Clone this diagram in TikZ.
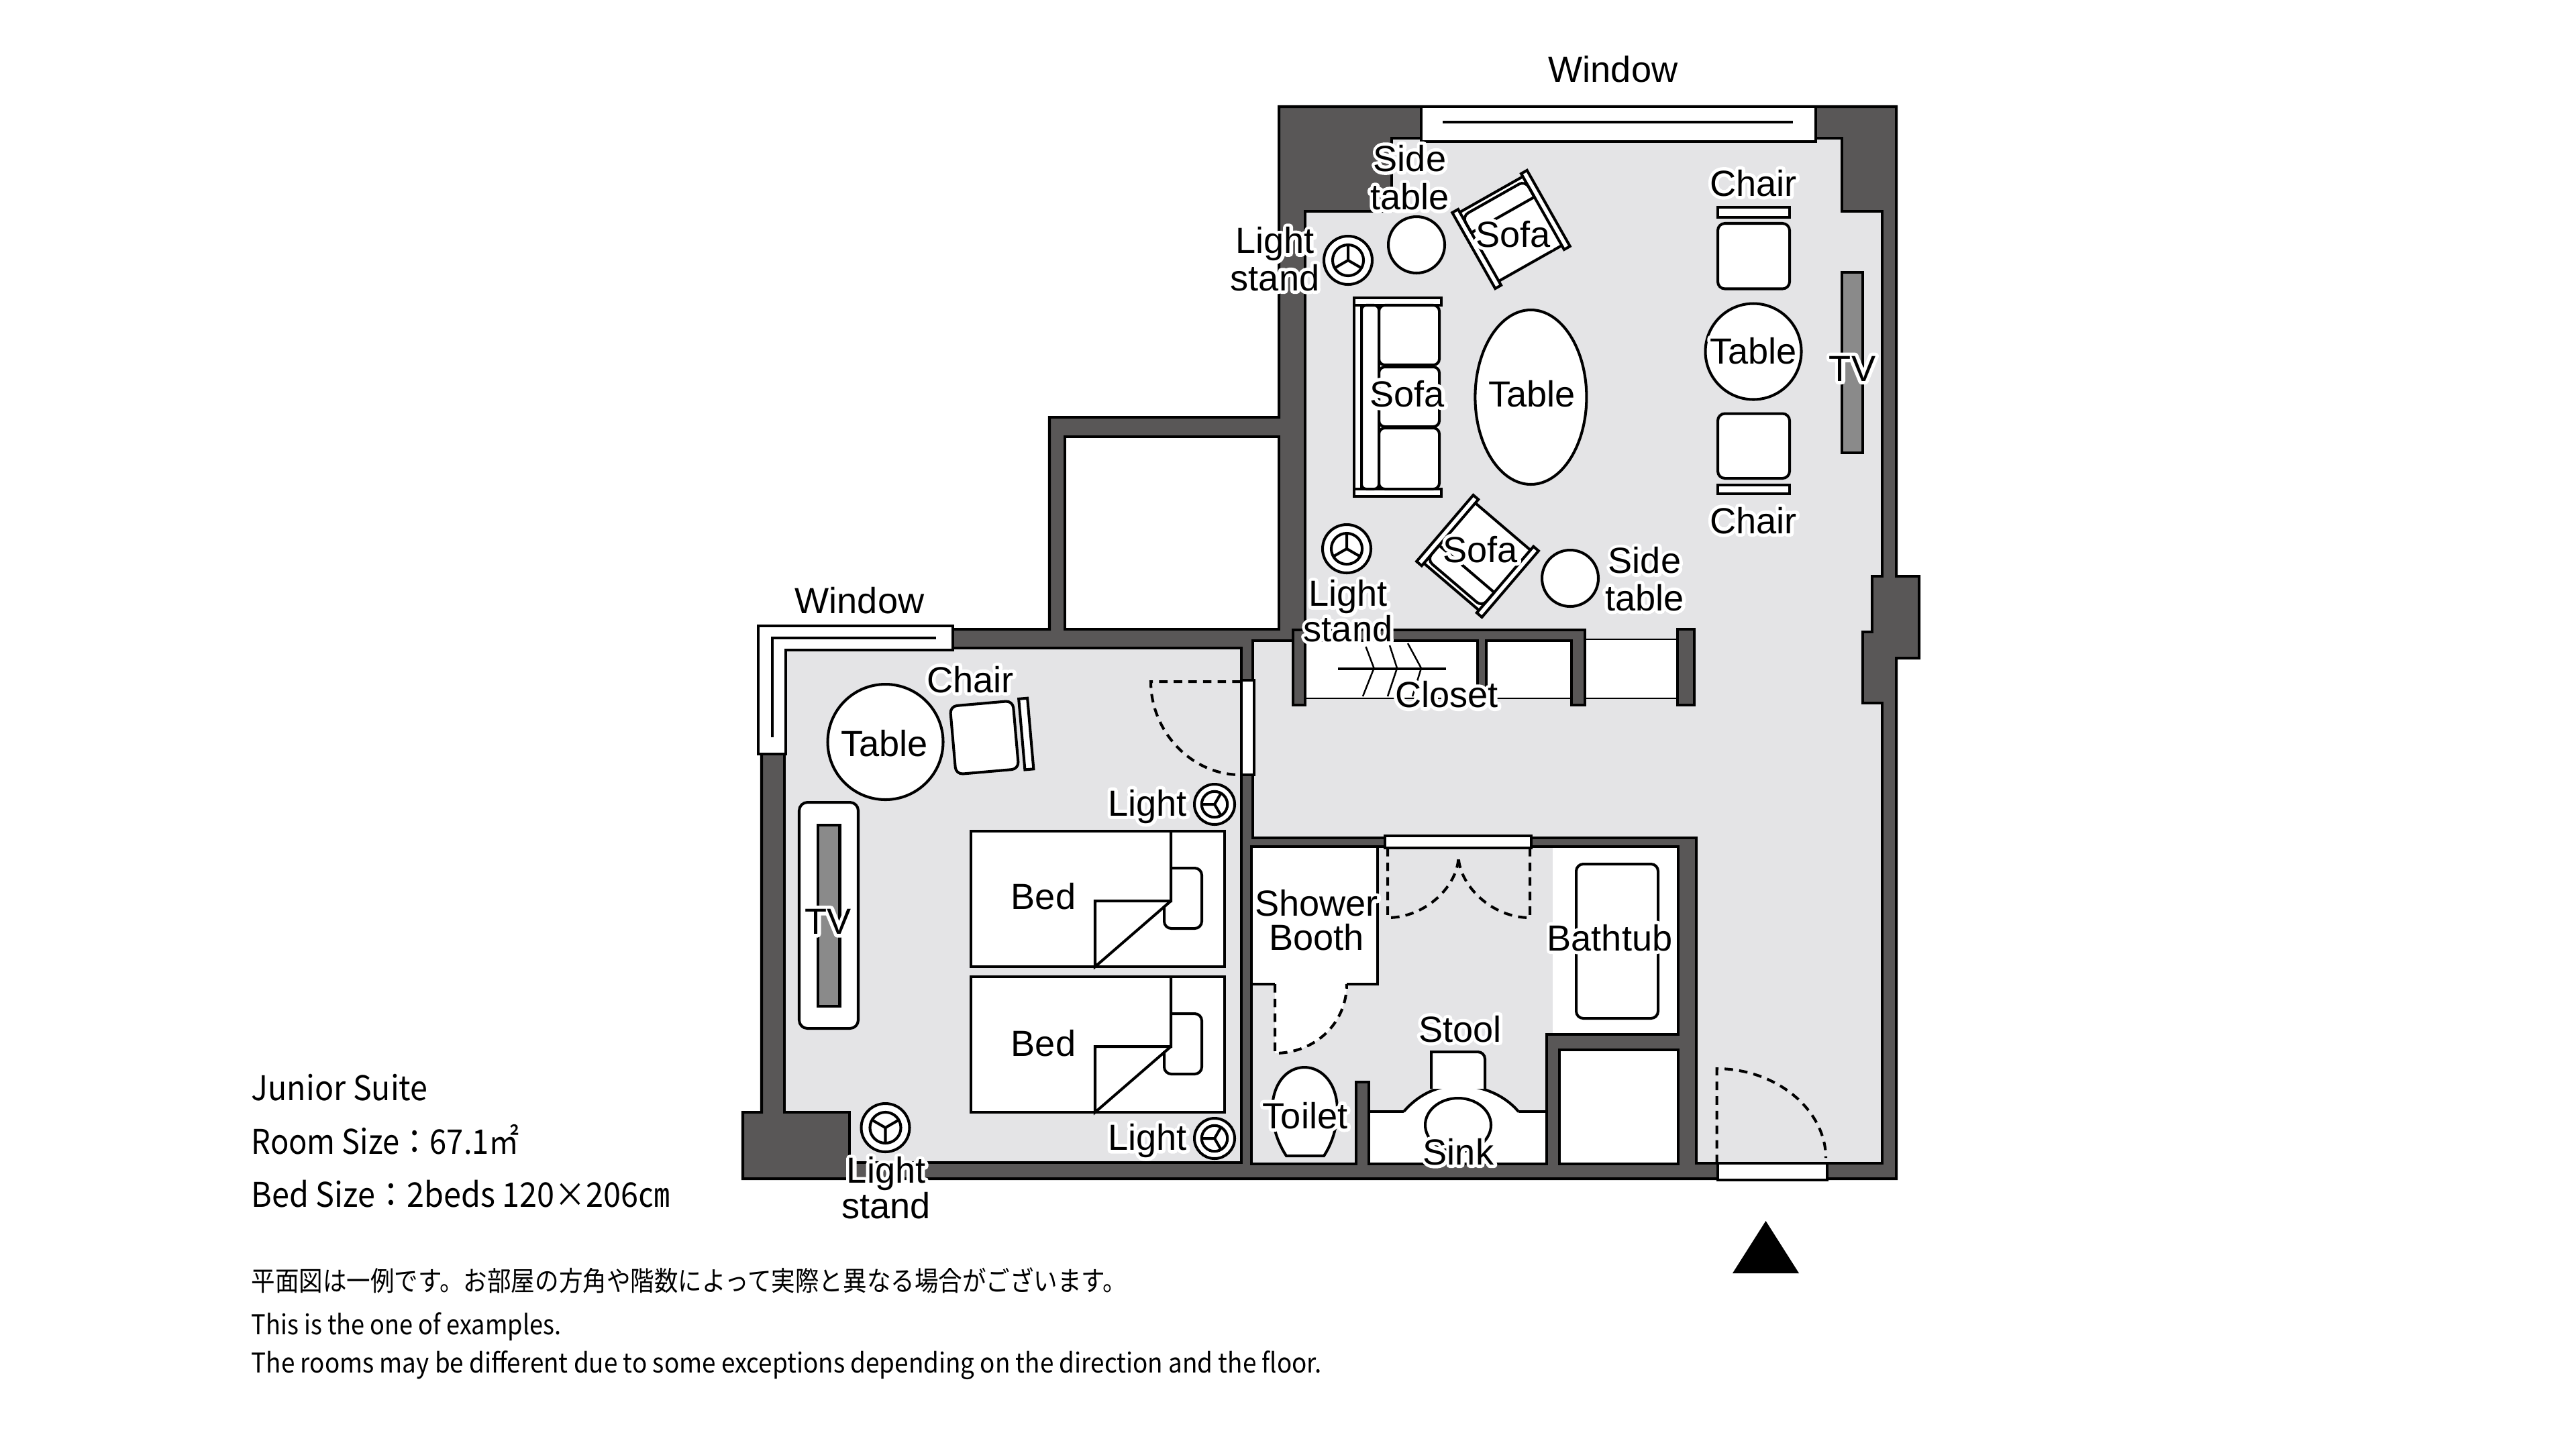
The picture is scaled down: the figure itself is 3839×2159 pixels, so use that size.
\documentclass[tikz,border=0pt]{standalone}
\usepackage{graphicx}
\usepackage{fontspec}
\setmainfont{Liberation Sans}
\newfontfamily\jpf{Noto Sans CJK JP}
\definecolor{wallc}{HTML}{595757}
\definecolor{floorc}{HTML}{E4E4E6}
\definecolor{tvc}{HTML}{8A8A8A}
\newcommand\hl[1]{\leavevmode\rlap{\special{pdf:literal 1 Tr 2.9 w 1 1 1 RG 1 J 1 j}#1\special{pdf:literal 0 Tr 1 w 0 0 0 RG 0 J 0 j}}#1}
\tikzset{
  ln/.style={line width=1.15pt,line join=miter},
  thin ln/.style={line width=.7pt},
  wall/.style={fill=wallc,draw=black,line width=1.15pt},
  wht/.style={fill=white,draw=black,line width=1.15pt},
  dash ln/.style={line width=1.15pt,dash pattern=on 3.6pt off 2.6pt},
  lbl/.style={font=\fontsize{15.4pt}{15.7pt}\selectfont,inner sep=0pt,anchor=base,align=center},
  info/.style={font=\jpf\fontsize{14pt}{14pt}\selectfont,inner sep=0pt,anchor=base west},
  note/.style={font=\jpf\fontsize{11.2pt}{11.2pt}\selectfont,inner sep=0pt,anchor=base west},
}
\newcommand\lampA[4]{% cx cy outer rotation
  \begin{scope}[shift={(#1,#2)},rotate=#4]
  \draw[wht] (0,0) circle[radius=#3];
  \draw[ln] (0,0) circle[radius=#3*0.64];
  \draw[ln] (0,0)--(0,-#3*0.64) (0,0)--(-#3*0.554,#3*0.32) (0,0)--(#3*0.554,#3*0.32);
  \end{scope}}
\newcommand\armchair[3]{%
  \begin{scope}[shift={(#1,#2)},rotate=#3]
  \fill[white] (-64,-60) rectangle (64,58);
  \draw[ln] (-54,-60)--(54,-60) (-54,58)--(54,58);
  \draw[wht] (-64,-65) rectangle (-54,65);
  \draw[wht] (54,-65) rectangle (64,65);
  \draw[ln,rounded corners=3pt] (-54,-25)--(-54,-53)--(54,-53)--(54,-25);
  \draw[ln] (-54,-25)--(54,-25);
  \end{scope}}
\begin{document}
\begin{tikzpicture}[x=0.01cm,y=-0.01cm]
\useasboundingbox (0,0) rectangle (3839,2159);
\fill[white] (0,0) rectangle (3839,2159);
% building mass
\draw[wall] (1906,159)--(2826,159)--(2826,859)--(2860,859)--(2860,981)--(2826,981)--(2826,1757)--(1107,1757)--(1107,1658)--(1135,1658)--(1135,1100)--(1300,938)--(1564,938)--(1564,622)--(1906,622)--cycle;
% alcove
\draw[wht] (1587,651) rectangle (1906,938);
% main room
\draw[ln,fill=floorc] (1945,315)--(2074,315)--(2074,206)--(2745,206)--(2745,315)--(2805,315)--(2805,859)--(2790,859)--(2790,941.5)--(2776,941.5)--(2776,1047.6)--(2805,1047.6)--(2805,1734)--(2528,1734)--(2528,1248.5)--(1867,1248.5)--(1867,955)--(1927,955)--(1927,939)--(1945,939)--cycle;
% bedroom
\draw[ln,fill=floorc] (1169,966)--(1850,966)--(1850,1733)--(1266,1733)--(1266,1658)--(1169,1658)--cycle;
% bath
\fill[floorc] (1865,1262)--(2501,1262)--(2501,1542)--(2305,1542)--(2305,1735)--(2040,1735)--(2040,1613)--(2021,1613)--(2021,1735)--(1865,1735)--cycle;
\fill[white] (2314,1262) rectangle (2501,1542);
\fill[white] (1865,1262)--(2053,1262)--(2053,1467)--(2007,1467) .. controls (2007,1526) and (1959,1570) .. (1900,1570)--(1900,1467)--(1865,1467)--cycle;
\fill[white] (2040,1657)--(2092,1657) .. controls (2115,1630) and (2145,1618) .. (2173,1618) .. controls (2205,1618) and (2240,1630) .. (2263,1657)--(2305,1657)--(2305,1735)--(2040,1735)--cycle;
\draw[ln] (2092,1657) .. controls (2115,1630) and (2145,1618) .. (2173,1618) .. controls (2205,1618) and (2240,1630) .. (2263,1657);
\draw[ln] (2040,1657)--(2092,1657) (2263,1657)--(2305,1657);
\draw[ln] (1865,1262)--(2501,1262)--(2501,1542)--(2305,1542)--(2305,1735)--(2040,1735)--(2040,1613)--(2021,1613)--(2021,1735)--(1865,1735)--cycle;
\draw[ln] (1865,1467)--(1900,1467) (2007,1467)--(2053,1467)--(2053,1262);
\draw[wht] (2324,1565) rectangle (2501,1735);
% closets
\draw[thin ln,fill=white] (1945,955) rectangle (2342,1041);
\draw[thin ln,fill=white] (2362,953) rectangle (2500,1041);
\draw[wall] (1927,939)--(2362,939)--(2362,1051)--(2342,1051)--(2342,955)--(2215,955)--(2215,1051)--(2202,1051)--(2202,955)--(1945,955)--(1945,1051)--(1927,1051)--cycle;
\draw[wall] (2500,938) rectangle (2525,1051);
\draw[ln] (1994,997)--(2155,997);
\draw[thin ln] (2035.5,964)--(2047.6,996)--(2031,1038) (2071,962)--(2082,996)--(2068,1038) (2098,959)--(2118,996)--(2105,1038);
% windows
\draw[wht] (2118,159) rectangle (2706,211);
\draw[ln] (2150,182)--(2672,182);
\draw[wht] (1130,933)--(1420,933)--(1420,969)--(1171,969)--(1171,1124)--(1130,1124)--cycle;
\draw[ln] (1395,951)--(1151,951)--(1151,1099);
% doors
\draw[wht] (1850,1014) rectangle (1869,1155);
\draw[dash ln] (1849,1016)--(1715,1016) .. controls (1715,1090) and (1775,1155) .. (1849,1155);
\draw[wht] (2064,1246) rectangle (2282,1264);
\draw[dash ln] (2068,1264)--(2068,1368) .. controls (2125,1368) and (2173,1320) .. (2173.5,1277);
\draw[dash ln] (2280,1264)--(2280,1368) .. controls (2223,1368) and (2175,1320) .. (2173.5,1277);
\draw[dash ln] (1900,1467)--(1900,1570) .. controls (1959,1570) and (2007,1526) .. (2007,1467);
\draw[wht] (2560,1734) rectangle (2723,1759);
\draw[dash ln] (2558.5,1734)--(2558.5,1593) .. controls (2648,1593) and (2721,1655) .. (2721,1726);
\fill[black] (2631.5,1820)--(2681,1898)--(2582,1898)--cycle;
% living
\draw[wht] (2111,365) circle[radius=42];
\draw[wht] (2340,862) circle[radius=42];
\lampA{2009}{388}{36}{0}
\lampA{2007}{818}{36}{0}
\armchair{2252}{342}{29.5}
\armchair{2202}{829}{139.5}
% main sofa
\fill[white] (2018,444) rectangle (2145,740);
\draw[ln] (2018,444)--(2018,740);
\draw[ln] (2029,455)--(2029,729);
\draw[wht] (2018,444) rectangle (2148,455);
\draw[wht] (2018,729) rectangle (2148,740);
\draw[ln,rounded corners=2pt] (2029,455) rectangle (2055,729);
\draw[ln,rounded corners=2.5pt] (2055,455) rectangle (2145,544);
\draw[ln,rounded corners=2.5pt] (2055,547) rectangle (2145,636);
\draw[ln,rounded corners=2.5pt] (2055,638) rectangle (2145,729);
\draw[wht] (2281.4,592) ellipse[x radius=83,y radius=130];
\draw[wht] (2613,524) circle[radius=71.5];
\draw[wht] (2560,309) rectangle (2667,324);
\draw[wht,rounded corners=3pt] (2560,333) rectangle (2667,430.5);
\draw[wht,rounded corners=3pt] (2560,616.5) rectangle (2667,713);
\draw[wht] (2560,722.5) rectangle (2667,736);
\draw[ln,fill=tvc] (2745,406) rectangle (2776,675);
% bedroom furniture
\draw[wht] (1319.5,1106) circle[radius=86];
\begin{scope}[shift={(1467,1099.5)},rotate=5]
\draw[wht,rounded corners=3pt] (-47,-51) rectangle (47,51);
\draw[wht] (56,-53) rectangle (69,53);
\end{scope}
\draw[wht,rounded corners=3.5pt] (1191,1196) rectangle (1279,1533);
\draw[ln,fill=tvc] (1219,1230) rectangle (1251.5,1500);
\lampA{1810}{1199}{30}{90}
\lampA{1810}{1697}{30}{90}
\lampA{1319.5}{1681}{36}{180}
\foreach \dy in {0,217}{
  \begin{scope}[shift={(0,\dy)}]
  \draw[wht] (1447,1239) rectangle (1825,1441);
  \draw[ln,rounded corners=3pt] (1745,1294)--(1791,1294)--(1791,1384)--(1735,1384)--(1735,1350);
  \draw[ln] (1745,1239)--(1745,1343)--(1632,1343)--(1632,1441)--(1745,1343);
  \end{scope}
}
% bathroom fixtures
\draw[wht,rounded corners=3pt] (2349,1288) rectangle (2471,1518);
\draw[ln,fill=white] (2133,1623)--(2133,1568)[rounded corners=3pt]--(2213,1568)--(2213,1623);
\draw[ln,fill=white] (1917,1723)--(1973,1723) .. controls (1985,1705) and (1993,1680) .. (1993,1655) .. controls (1993,1615) and (1970,1591) .. (1944,1591) .. controls (1918,1591) and (1896,1615) .. (1896,1655) .. controls (1896,1680) and (1905,1705) .. (1917,1723)--cycle;
\draw[ln] (2173,1677) ellipse[x radius=49,y radius=40];
% labels
\node[lbl] (wintop) at (2404,122.5) {Window};
\node[lbl] (winleft) at (1281,914.5) {Window};
\node[lbl] (sidea) at (2101,312.5) {\hl{Side}\\[.6pt]\hl{table}};
\node[lbl] (sofaa) at (2255,368) {\hl{Sofa}};
\node[lbl] (lighta) at (1900,433) {\hl{Light}\\\hl{stand}};
\node[lbl] (chaira) at (2613,292) {\hl{Chair}};
\node[lbl] (sofab) at (2097,606) {\hl{Sofa}};
\node[lbl] (tablea) at (2283,606) {\hl{Table}};
\node[lbl] (tableb) at (2613,542) {\hl{Table}};
\node[lbl] (tva) at (2760.5,568) {\hl{TV}};
\node[lbl] (chairb) at (2613,795) {\hl{Chair}};
\node[lbl] (sofac) at (2206,838) {\hl{Sofa}};
\node[lbl] (sideb) at (2451,910) {\hl{Side}\\\hl{table}};
\node[lbl] (lightb) at (2009,956) {\hl{Light}\\[-.85pt]\hl{stand}};
\node[lbl] (closet) at (2156,1054.5) {\hl{Closet}};
\node[lbl] (shower) at (1962,1416.5) {\hl{Shower}\\[-1.3pt]\hl{Booth}};
\node[lbl] (bathtub) at (2399,1417) {\hl{Bathtub}};
\node[lbl] (stool) at (2176,1553) {\hl{Stool}};
\node[lbl] (toilet) at (1945,1682) {\hl{Toilet}};
\node[lbl] (sink) at (2173.5,1736) {\hl{Sink}};
\node[lbl] (chairc) at (1446,1032) {\hl{Chair}};
\node[lbl] (tablec) at (1318,1127) {\hl{Table}};
\node[lbl] (lightc) at (1710,1216) {\hl{Light}};
\node[lbl] (beda) at (1555,1355) {\hl{Bed}};
\node[lbl] (bedb) at (1555,1574) {\hl{Bed}};
\node[lbl] (tvb) at (1234,1392.5) {\hl{TV}};
\node[lbl] (lightd) at (1710,1714.5) {\hl{Light}};
\node[lbl] (lighte) at (1320.6,1816.5) {\hl{Light}\\[-.7pt]\hl{stand}};
% info
\node[info] (ia) at (374,1640.5) {\scalebox{.947}[1.03]{Junior Suite}};
\node[info] (ib) at (374,1720) {\scalebox{.92}[1.03]{Room Size：67.1㎡}};
\node[info] (ic) at (374,1799.5) {\scalebox{.951}[1.03]{Bed Size：2beds 120×206㎝}};
\node[note] (na) at (374,1924.5) {\scalebox{.902}[1.03]{平面図は一例です。お部屋の方角や階数によって実際と異なる場合がございます。}};
\node[note] (nb) at (374,1989.5) {\scalebox{.917}[1.03]{This is the one of examples.}};
\node[note] (nc) at (374,2046) {\scalebox{.935}[1.03]{The rooms may be different due to some exceptions depending on the direction and the floor.}};
\end{tikzpicture}
\end{document}
